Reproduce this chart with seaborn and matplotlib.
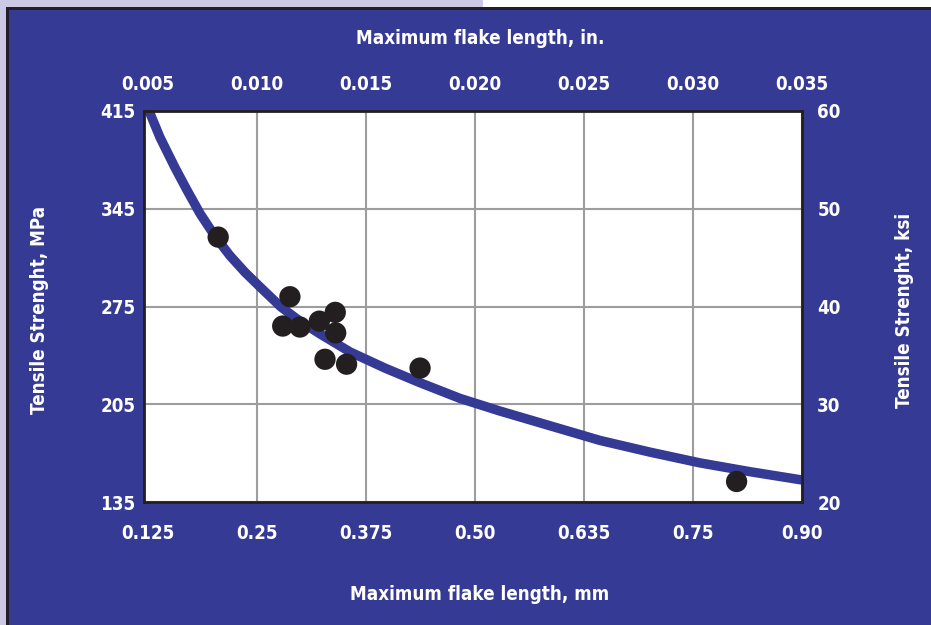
import matplotlib
matplotlib.use("Agg")
import matplotlib.pyplot as plt
from matplotlib.patches import Rectangle
import pandas as pd
import seaborn as sns

# Specimens: maximum flake length (in.) and tensile strength (ksi)
flake_in = [0.00822, 0.01151, 0.01118, 0.01197, 0.01286, 0.01359,
            0.01361, 0.01312, 0.01411, 0.01748, 0.03200]
strength_ksi = [47.1, 41.0, 38.0, 37.9, 38.5, 39.4,
                37.3, 34.6, 34.1, 33.7, 22.1]

# Trend curve through the specimens
curve_in = [0.00505, 0.00555, 0.00624, 0.00679, 0.00739, 0.00807, 0.00876,
            0.00945, 0.01014, 0.01110, 0.01197, 0.01289, 0.01427, 0.01587,
            0.01748, 0.01931, 0.02115, 0.02344, 0.02573, 0.02803, 0.03032,
            0.03262, 0.03500]
curve_ksi = [60.0, 57.3, 54.2, 51.9, 49.5, 47.2, 45.2,
             43.5, 42.0, 39.95, 38.5, 37.2, 35.35, 33.7,
             32.2, 30.6, 29.3, 27.8, 26.3, 25.1, 24.0,
             23.1, 22.25]

# Paired scales: inches / millimetres, ksi / MPa
in_ticks = [0.005, 0.010, 0.015, 0.020, 0.025, 0.030, 0.035]
in_labels = ["0.005", "0.010", "0.015", "0.020", "0.025", "0.030", "0.035"]
mm_labels = ["0.125", "0.25", "0.375", "0.50", "0.635", "0.75", "0.90"]
ksi_ticks = [20, 30, 40, 50, 60]
ksi_labels = ["20", "30", "40", "50", "60"]
mpa_labels = ["135", "205", "275", "345", "415"]

BLUE = "#353a95"
LAVENDER = "#cbc9e3"
DARK = "#231f2a"
INK = "#231f20"
GRID = "#9d9d9f"

sns.set_style("white")
plt.rcParams["font.family"] = ["DejaVu Sans"]
plt.rcParams["font.stretch"] = "condensed"
plt.rcParams["font.weight"] = "bold"

W, H = 931, 625
fig = plt.figure(figsize=(W / 100, H / 100), dpi=100)
fig.patch.set_facecolor(LAVENDER)

# Page backdrop: white strip at top right, dark frame, blue panel
fig.add_artist(Rectangle((483 / W, 1 - 7 / H), 1, 7 / H,
                         transform=fig.transFigure, color="white", lw=0, zorder=0))
fig.add_artist(Rectangle((6 / W, 0), 1, 1 - 7 / H,
                         transform=fig.transFigure, color=DARK, lw=0, zorder=0))
fig.add_artist(Rectangle((9 / W, 0), 1, 1 - 10 / H,
                         transform=fig.transFigure, color=BLUE, lw=0, zorder=0))

ax = fig.add_axes([144 / W, 1 - 502 / H, 658 / W, 391 / H])
ax.set_facecolor("white")

pts = pd.DataFrame({"inch": flake_in, "ksi": strength_ksi})
curve = pd.DataFrame({"inch": curve_in, "ksi": curve_ksi})

sns.lineplot(data=curve, x="inch", y="ksi", ax=ax, color=BLUE, lw=6.8,
             sort=False, estimator=None, zorder=3, solid_capstyle="butt",
             solid_joinstyle="round")
sns.scatterplot(data=pts, x="inch", y="ksi", ax=ax, color=INK, s=235,
                edgecolor="none", linewidth=0, zorder=4)

ax.set_xlim(0.004817, 0.035)
ax.set_ylim(20, 60)
ax.set_xlabel("")
ax.set_ylabel("")

ax.set_xticks(in_ticks)
ax.set_xticklabels(mm_labels)
ax.set_yticks(ksi_ticks)
ax.set_yticklabels(mpa_labels)
ax.grid(True, color=GRID, lw=1.5, zorder=1)
ax.set_axisbelow(True)
ax.xaxis.get_gridlines()[0].set_visible(False)
ax.tick_params(axis="both", length=0, labelcolor="white", labelsize=13.5)
ax.tick_params(axis="x", pad=16)
ax.tick_params(axis="y", pad=6)
for lab in ax.get_xticklabels() + ax.get_yticklabels():
    lab.set_fontweight("bold")
    lab.set_fontstretch("condensed")

for sp in ax.spines.values():
    sp.set_visible(True)
    sp.set_color(INK)
    sp.set_linewidth(2.0)
    sp.set_zorder(5)

top = ax.secondary_xaxis("top")
top.set_xticks(in_ticks, in_labels)
top.tick_params(length=0, labelcolor="white", labelsize=13.5, pad=12)
right = ax.secondary_yaxis("right")
right.set_yticks(ksi_ticks, ksi_labels)
right.tick_params(length=0, labelcolor="white", labelsize=13.5, pad=11)
for sec in (top, right):
    for sp in sec.spines.values():
        sp.set_visible(False)
    for lab in sec.get_xticklabels() + sec.get_yticklabels():
        lab.set_fontweight("bold")
        lab.set_fontstretch("condensed")

title_kw = dict(color="white", fontsize=13.5, fontweight="bold",
                fontstretch="condensed", ha="center", va="center")
fig.text(480 / W, 1 - 38 / H, "Maximum flake length, in.", **title_kw)
fig.text(480 / W, 1 - 594 / H, "Maximum flake length, mm", **title_kw)
fig.text(40 / W, 1 - 310 / H, "Tensile Strenght, MPa", rotation=90, **title_kw)
fig.text(905 / W, 1 - 310 / H, "Tensile Strenght, ksi", rotation=90, **title_kw)

fig.savefig("out.png", dpi=100, facecolor=fig.get_facecolor())
